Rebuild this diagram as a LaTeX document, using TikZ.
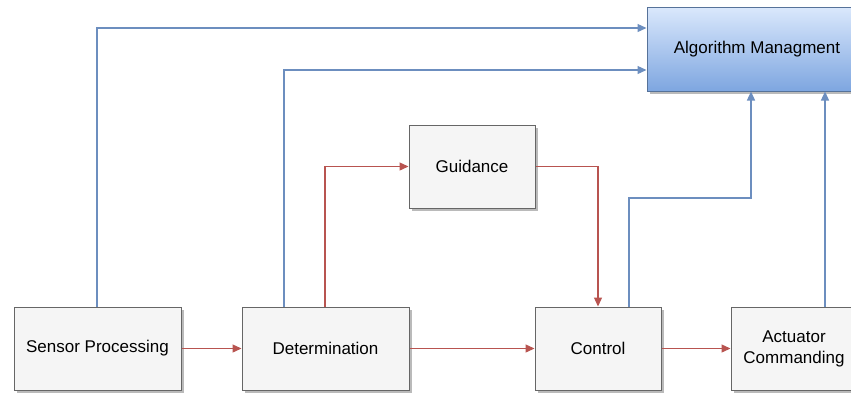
\documentclass[tikz,border=0pt]{standalone}
\usepackage{fontspec}
\setmainfont{Liberation Sans}
\usetikzlibrary{shadows,arrows.meta}
\definecolor{boxfill}{HTML}{F5F5F5}
\definecolor{boxline}{HTML}{666666}
\definecolor{bl}{HTML}{6C8EBF}
\definecolor{rd}{HTML}{B85450}
\definecolor{gtop}{HTML}{DAE8FC}
\definecolor{gbot}{HTML}{7EA6E0}
\begin{document}
\begin{tikzpicture}[x=1pt,y=-1pt,
  blk/.style={draw=boxline,fill=boxfill,line width=1pt,drop shadow={shadow xshift=3pt,shadow yshift=-3pt,fill=black!45,opacity=0.6},font=\fontsize{17}{21}\selectfont,align=center,inner sep=0pt},
  algo/.style={draw=bl!80!black,line width=1pt,top color=gtop,bottom color=gbot,drop shadow={shadow xshift=3pt,shadow yshift=-3pt,fill=black!45,opacity=0.6},font=\fontsize{17}{21}\selectfont,inner sep=0pt},
  bar/.style={bl,line width=1.3pt,-{Triangle[length=9pt,width=8pt]}},
  rar/.style={rd,line width=1.3pt,-{Triangle[length=9pt,width=8pt]}}]
\useasboundingbox (0,0) rectangle (851,394);
\clip (0,0) rectangle (851,394);
\node[blk,minimum width=167pt,minimum height=83pt] (sp) at (97.5,348.5) {Sensor Processing};
\node[blk,minimum width=167pt,minimum height=83pt] (det) at (325.5,348.5) {Determination};
\node[blk,minimum width=126pt,minimum height=83pt] (ctl) at (598,348.5) {Control};
\node[blk,minimum width=140pt,minimum height=83pt,text width=130pt] (act) at (801,348.5) {\hspace*{-14pt}Actuator\\\hspace*{-14pt}Commanding};
\node[blk,minimum width=126pt,minimum height=83pt] (gui) at (472,166.5) {Guidance};
\node[algo,minimum width=220pt,minimum height=84pt] (alg) at (757,49) {Algorithm Managment};
\coordinate (a1) at (97,28);
\coordinate (a2) at (284,70);
\coordinate (g1) at (325,166);
\coordinate (g2) at (598,166);
\coordinate (c1) at (629,198);
\coordinate (c2) at (751,198);
% blue
\draw[bar] (sp.north -| a1) |- (alg.west |- a1);
\draw[bar] (det.north -| a2) |- (alg.west |- a2);
\draw[bar] (ctl.north -| c1) |- (c2) -- (alg.south -| c2);
\draw[bar] (act.north -| 825,0) -- (alg.south -| 825,0);
% red
\draw[rar] (det.north -| g1) |- (gui.west);
\draw[rar] (gui.east) -| (ctl.north -| g2);
\draw[rar] (sp.east) -- (det.west);
\draw[rar] (det.east) -- (ctl.west);
\draw[rar] (ctl.east) -- (act.west);
\end{tikzpicture}
\end{document}
